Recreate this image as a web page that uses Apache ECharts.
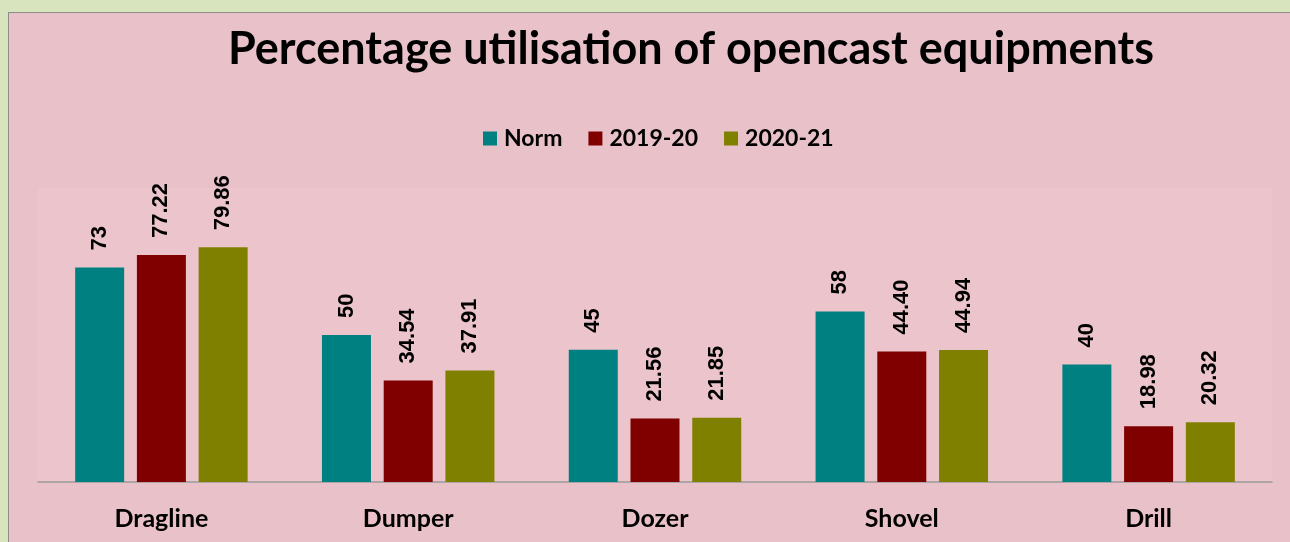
<!DOCTYPE html>
<html>
<head>
<meta charset="utf-8">
<script src="https://cdn.jsdelivr.net/npm/echarts@6/dist/echarts.min.js"></script>
<style>
html,body{margin:0;padding:0;width:1290px;height:542px;overflow:hidden;background:#d7e4bd;}
#panel{position:absolute;left:8px;top:12px;width:1290px;height:542px;border:1px solid #8c8c8c;background:#e9c2c9;}
#chart{width:1290px;height:542px;}
</style>
</head>
<body>
<div id="panel"><div id="chart"></div></div>
<script>
var categories = ['Dragline', 'Dumper', 'Dozer', 'Shovel', 'Drill'];
var seriesNames = ['Norm', '2019-20', '2020-21'];
var norm = [73, 50, 45, 58, 40];
var y2019 = [77.22, 34.54, 21.56, 44.40, 18.98];
var y2020 = [79.86, 37.91, 21.85, 44.94, 20.32];
var colors = ['#008080', '#800000', '#808000'];

var chart = echarts.init(document.getElementById('chart'));

function makeSeries(name, data, color, digits) {
    return {
        name: name,
        type: 'bar',
        barWidth: 49,
        barGap: '26%',
        data: data,
        itemStyle: { color: color },
        label: {
            show: true,
            position: 'top',
            rotate: 90,
            align: 'left',
            verticalAlign: 'middle',
            distance: 17,
            color: '#000',
            fontFamily: 'Liberation Sans',
            fontWeight: 'bold',
            fontSize: 22,
            formatter: function (p) { return p.value.toFixed(digits); }
        }
    };
}

var option = {
    animation: false,
    color: colors,
    title: {
        text: 'Percentage utilisation of opencast equipments',
        left: 677,
        textAlign: 'center',
        top: 9,
        textStyle: {
            fontFamily: 'Lato',
            fontWeight: 'bold',
            fontSize: 45,
            color: '#000'
        }
    },
    legend: {
        data: seriesNames,
        left: 469,
        top: 109,
        itemWidth: 14,
        itemHeight: 14,
        itemGap: 26,
        icon: 'rect',
        textStyle: {
            fontFamily: 'Lato',
            fontWeight: 'bold',
            fontSize: 23,
            color: '#000',
            padding: [0, 0, 0, 2]
        }
    },
    grid: {
        left: 29,
        right: 27,
        top: 175,
        bottom: 73,
        show: true,
        backgroundColor: '#ebc5cb',
        borderWidth: 0
    },
    xAxis: {
        type: 'category',
        data: categories,
        axisTick: { show: false },
        axisLine: { lineStyle: { color: '#9a9a9a', width: 1.5 } },
        axisLabel: {
            margin: 24,
            color: '#000',
            fontFamily: 'Lato',
            fontWeight: 'bold',
            fontSize: 25
        }
    },
    yAxis: {
        type: 'value',
        min: 0,
        max: 100,
        show: false,
        splitLine: { show: false }
    },
    series: [
        makeSeries(seriesNames[0], norm, colors[0], 0),
        makeSeries(seriesNames[1], y2019, colors[1], 2),
        makeSeries(seriesNames[2], y2020, colors[2], 2)
    ]
};
chart.setOption(option);
</script>
</body>
</html>
